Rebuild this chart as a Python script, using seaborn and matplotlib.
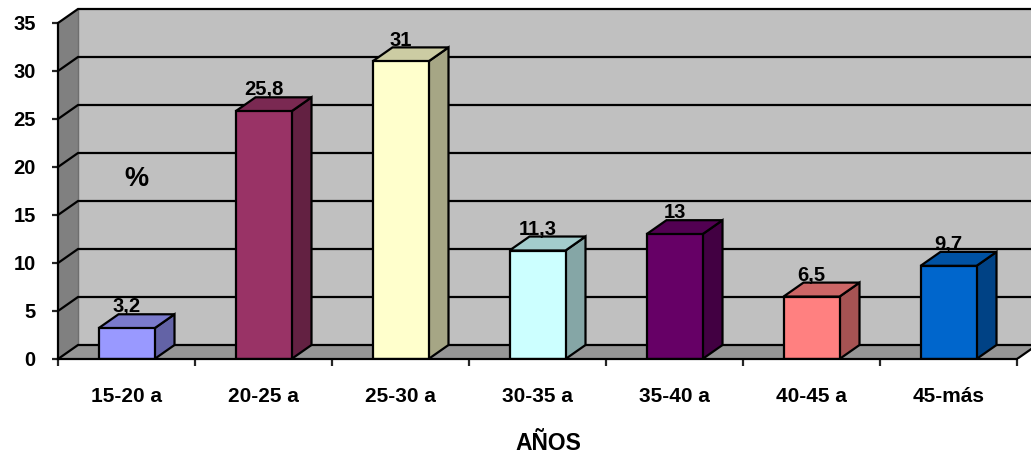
import matplotlib

matplotlib.use("Agg")

import matplotlib.pyplot as plt
import numpy as np
import pandas as pd
import seaborn as sns
from matplotlib.colors import to_rgb
from matplotlib.patches import Polygon

CATEGORIES = ["15-20 a", "20-25 a", "25-30 a", "30-35 a", "35-40 a", "40-45 a", "45-más"]
VALUES = [3.2, 25.8, 31, 11.3, 13, 6.5, 9.7]
VALUE_LABELS = ["3,2", "25,8", "31", "11,3", "13", "6,5", "9,7"]
BAR_COLORS = ["#9999FF", "#993366", "#FFFFCC", "#CCFFFF", "#660066", "#FF8080", "#0066CC"]
Y_TICKS = [0, 5, 10, 15, 20, 25, 30, 35]

FIG_W, FIG_H = 1031, 455
LEFT_PX, BASE_PX = 58, 359
CAT_PX = 137
UNIT_PX = 9.6
DX = 20 / CAT_PX
DY = 14 / UNIT_PX
LINE = 1.6


def shade(color: str, factor: float) -> tuple:
    return tuple(c * factor for c in to_rgb(color))


def draw_walls(ax: plt.Axes) -> None:
    x0, x1 = -0.5, 6.5
    top = Y_TICKS[-1]
    ax.add_patch(Polygon([(x0, 0), (x0 + DX, DY), (x0 + DX, top + DY), (x0, top)],
                         fc="#808080", ec="none", zorder=0))
    ax.add_patch(Polygon([(x0 + DX, DY), (x1 + DX, DY), (x1 + DX, top + DY), (x0 + DX, top + DY)],
                         fc="#C0C0C0", ec="none", zorder=0))
    ax.add_patch(Polygon([(x0, 0), (x1, 0), (x1 + DX, DY), (x0 + DX, DY)],
                         fc="#969696", ec="none", zorder=1))
    for tick in Y_TICKS:
        ax.plot([x0, x0 + DX, x1 + DX], [tick, tick + DY, tick + DY],
                color="black", lw=LINE, zorder=1.5, solid_joinstyle="miter")
    ax.plot([x1, x1 + DX], [0, DY], color="black", lw=LINE, zorder=1.5)
    ax.plot([x0 + DX, x0 + DX], [DY, top + DY], color="#6E6E6E", lw=1, zorder=1.2)


def draw_depth(ax: plt.Axes, bar, color: str) -> None:
    x, y = bar.get_x(), bar.get_y()
    w, h = bar.get_width(), bar.get_height()
    side = [(x + w, y), (x + w + DX, y + DY), (x + w + DX, y + h + DY), (x + w, y + h)]
    roof = [(x, y + h), (x + DX, y + h + DY), (x + w + DX, y + h + DY), (x + w, y + h)]
    ax.add_patch(Polygon(side, fc=shade(color, 0.65), ec="black", lw=LINE, zorder=2.5, joinstyle="miter"))
    ax.add_patch(Polygon(roof, fc=shade(color, 0.8), ec="black", lw=LINE, zorder=2.5, joinstyle="miter"))


def main() -> None:
    sns.set_theme(style="white")
    plt.rcParams["font.family"] = ["Liberation Sans", "DejaVu Sans"]

    data = pd.DataFrame({"edad": CATEGORIES, "pct": VALUES})

    fig = plt.figure(figsize=(FIG_W / 100, FIG_H / 100), dpi=100, facecolor="white")
    ax = fig.add_axes([LEFT_PX / FIG_W, 1 - BASE_PX / FIG_H, 1 - LEFT_PX / FIG_W, BASE_PX / FIG_H])
    ax.patch.set_visible(False)

    sns.barplot(
        data=data,
        x="edad",
        y="pct",
        hue="edad",
        palette=BAR_COLORS,
        saturation=1,
        width=56 / CAT_PX,
        edgecolor="black",
        linewidth=LINE,
        legend=False,
        zorder=3,
        ax=ax,
    )
    bars = sorted(ax.patches, key=lambda p: p.get_x())

    ax.set_xlim(-0.5, -0.5 + (FIG_W - LEFT_PX) / CAT_PX)
    ax.set_ylim(0, BASE_PX / UNIT_PX)

    draw_walls(ax)
    for bar, color, label in zip(bars, BAR_COLORS, VALUE_LABELS):
        draw_depth(ax, bar, color)
        ax.text(bar.get_x() + bar.get_width() / 2, bar.get_height() + 1.65, label,
                ha="center", va="baseline", fontsize=14.5, fontweight="bold", color="black", zorder=4)

    ax.text(0.07, 18.8, "%", ha="center", va="center", fontsize=19.5, fontweight="bold", color="black", zorder=4)

    sns.despine(ax=ax, top=True, right=True)
    ax.spines["left"].set_bounds(0, Y_TICKS[-1])
    ax.spines["bottom"].set_bounds(-0.5, 6.5)
    for spine in ["left", "bottom"]:
        ax.spines[spine].set_linewidth(LINE)
        ax.spines[spine].set_color("black")
        ax.spines[spine].set_zorder(5)

    ax.set_yticks(Y_TICKS)
    ax.set_xticks(np.arange(-0.5, 7), minor=True)
    ax.set_xticks(range(len(CATEGORIES)), CATEGORIES)
    ax.tick_params(axis="y", length=4.5, width=LINE, left=True, labelsize=14.5, pad=11.5)
    ax.tick_params(axis="x", which="major", length=0, labelsize=15, pad=20)
    ax.tick_params(axis="x", which="minor", length=5, width=LINE, bottom=True)
    for label in ax.get_xticklabels() + ax.get_yticklabels():
        label.set_fontweight("bold")
        label.set_color("black")

    ax.set_ylabel("")
    ax.set_xlabel("")
    fig.text(548 / FIG_W, 1 - 444 / FIG_H, "AÑOS", ha="center", va="center",
             fontsize=16.5, fontweight="bold", color="black")

    fig.savefig("out.png", dpi=100, facecolor="white")
    plt.close(fig)


if __name__ == "__main__":
    main()
